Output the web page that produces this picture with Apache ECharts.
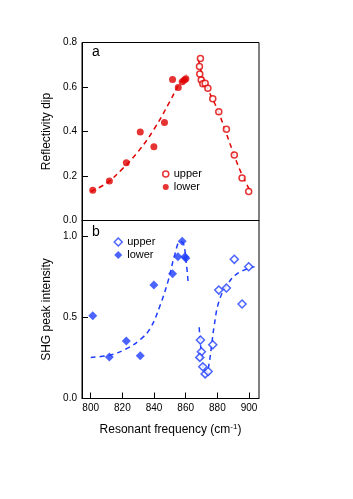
<!DOCTYPE html>
<html>
<head>
<meta charset="utf-8">
<script src="https://cdn.jsdelivr.net/npm/echarts@6/dist/echarts.min.js"></script>
<style>
  html, body { margin: 0; padding: 0; background: #fff; }
  #chart { width: 353px; height: 499px; }
</style>
</head>
<body>
<div id="chart"></div>
<script>
const RED = '#e00000';
const BLUE = '#1f3dff';

// panel a: reflectivity dip
const aLowerFreq = [801.3, 811.8, 822.5, 831.3, 839.9, 846.6, 851.7, 855.3, 857.8, 859.2, 860.1];
const aLowerDip = [0.136, 0.178, 0.26, 0.398, 0.332, 0.44, 0.634, 0.598, 0.624, 0.632, 0.637];
const aUpperFreq = [869.3, 868.7, 868.9, 869.8, 870.8, 872.3, 874.0, 877.1, 880.9, 885.7, 890.7, 895.6, 899.8];
const aUpperDip = [0.728, 0.692, 0.658, 0.631, 0.615, 0.617, 0.594, 0.547, 0.489, 0.41, 0.294, 0.191, 0.13];
const aFitLowFreq = [800, 810, 820, 830, 840, 850, 856, 860.5];
const aFitLowDip = [0.13, 0.168, 0.232, 0.31, 0.41, 0.535, 0.615, 0.655];
const aFitUpFreq = [868, 871, 875, 880, 885, 890, 895, 900.5];
const aFitUpDip = [0.725, 0.64, 0.575, 0.5, 0.405, 0.305, 0.215, 0.135];

// panel b: SHG peak intensity
const bLowerFreq = [801.3, 811.8, 822.5, 831.3, 839.9, 851.7, 855.1, 857.8, 859.5, 860.1];
const bLowerShg = [0.511, 0.257, 0.356, 0.264, 0.701, 0.771, 0.876, 0.971, 0.876, 0.866];
const bUpperFreq = [869.3, 869.9, 868.9, 870.8, 872.3, 874.2, 877.1, 880.9, 885.7, 890.7, 895.6, 899.8];
const bUpperShg = [0.361, 0.289, 0.254, 0.196, 0.152, 0.167, 0.332, 0.67, 0.683, 0.86, 0.584, 0.814];
const bFitLowFreq = [800, 812, 823, 832, 838, 844, 849, 853, 856.5, 858.5, 860.3, 861.5];
const bFitLowShg = [0.254, 0.268, 0.31, 0.37, 0.44, 0.58, 0.73, 0.885, 0.97, 0.96, 0.845, 0.72];
const bFitUpFreq = [868.5, 870, 871.5, 873, 874.5, 876, 878, 881, 886, 893, 903.5];
const bFitUpShg = [0.44, 0.27, 0.17, 0.15, 0.2, 0.3, 0.45, 0.6, 0.7, 0.775, 0.815];

const xTicks = [800, 820, 840, 860, 880, 900];
const aYTicks = [0, 0.2, 0.4, 0.6, 0.8];
const bYTicks = [0, 0.5, 1.0];

const pairs = (xs, ys) => xs.map((x, i) => [x, ys[i]]);

const FONT = '"Liberation Sans", Arial, sans-serif';
const chart = echarts.init(document.getElementById('chart'));

const axisLine = { lineStyle: { color: '#000', width: 1 } };
const tickStyle = { inside: true, length: 6, lineStyle: { color: '#000', width: 1 } };
const labelStyle = { color: '#000', fontSize: 10, fontFamily: FONT };

function fitLine(name, data, color, xi) {
  return {
    name: name, type: 'line', xAxisIndex: xi, yAxisIndex: xi,
    data: data, smooth: 0.4, symbol: 'none', silent: true,
    lineStyle: { color: color, width: 1.5, type: [5, 4] }, z: 1
  };
}

chart.setOption({
  animation: false,
  textStyle: { fontFamily: FONT },
  grid: [
    { left: 82, right: 94, top: 42.5, height: 178, show: true, borderColor: '#000', borderWidth: 1 },
    { left: 82, right: 94, top: 220.5, height: 178, show: true, borderColor: '#000', borderWidth: 1 }
  ],
  xAxis: [
    {
      gridIndex: 0, type: 'value', min: 794.5, max: 906.3,
      axisLine: axisLine, axisTick: { show: false }, axisLabel: { show: false }, splitLine: { show: false }
    },
    {
      gridIndex: 1, type: 'value', min: 794.5, max: 906.3,
      axisLine: axisLine,
      axisTick: Object.assign({ customValues: xTicks }, tickStyle),
      axisLabel: Object.assign({ customValues: xTicks, margin: 5 }, labelStyle),
      splitLine: { show: false },
      name: 'Resonant frequency (cm{sup|-1})', nameLocation: 'middle', nameGap: 24,
      nameTextStyle: {
        color: '#000', fontSize: 12, fontFamily: FONT,
        rich: { sup: { fontSize: 8, verticalAlign: 'top', color: '#000', padding: [0, 0, 6, 0] } }
      }
    }
  ],
  yAxis: [
    {
      gridIndex: 0, type: 'value', min: 0, max: 0.8,
      axisLine: axisLine,
      axisTick: Object.assign({ customValues: aYTicks }, tickStyle),
      axisLabel: Object.assign({ customValues: aYTicks, margin: 5, formatter: v => v.toFixed(1) }, labelStyle),
      splitLine: { show: false },
      name: 'Reflectivity dip', nameLocation: 'middle', nameGap: 28,
      nameTextStyle: { color: '#000', fontSize: 12, fontFamily: FONT }
    },
    {
      gridIndex: 1, type: 'value', min: 0, max: 1.1,
      axisLine: axisLine,
      axisTick: Object.assign({ customValues: bYTicks }, tickStyle),
      axisLabel: Object.assign({ customValues: bYTicks, margin: 5, formatter: v => v.toFixed(1) }, labelStyle),
      splitLine: { show: false },
      name: 'SHG peak intensity', nameLocation: 'middle', nameGap: 28,
      nameTextStyle: { color: '#000', fontSize: 12, fontFamily: FONT }
    }
  ],
  legend: [
    {
      left: 157, top: 163.5, orient: 'vertical', itemWidth: 6, itemHeight: 6, itemGap: 2,
      textStyle: { color: '#000', fontSize: 11, fontFamily: FONT }, selectedMode: false,
      data: [
        { name: 'upper', icon: 'circle', itemStyle: { color: '#fff', borderColor: RED, borderWidth: 1.5 } },
        { name: 'lower', icon: 'circle', itemStyle: { color: RED, borderWidth: 0 } }
      ]
    },
    {
      left: 108.5, top: 231.5, orient: 'vertical', itemWidth: 8, itemHeight: 8, itemGap: 2,
      textStyle: { color: '#000', fontSize: 11, fontFamily: FONT }, selectedMode: false,
      data: [
        { name: 'upper', icon: 'diamond', itemStyle: { color: '#fff', borderColor: BLUE, borderWidth: 1.5 } },
        { name: 'lower', icon: 'diamond', itemStyle: { color: BLUE, borderWidth: 0 } }
      ]
    }
  ],
  graphic: [
    { type: 'text', left: 92, top: 45, style: { text: 'a', fontSize: 14, fontFamily: FONT, fill: '#000' } },
    { type: 'text', left: 92, top: 225, style: { text: 'b', fontSize: 14, fontFamily: FONT, fill: '#000' } }
  ],
  series: [
    fitLine('fitALow', pairs(aFitLowFreq, aFitLowDip), RED, 0),
    fitLine('fitAUp', pairs(aFitUpFreq, aFitUpDip), RED, 0),
    fitLine('fitBLow', pairs(bFitLowFreq, bFitLowShg), BLUE, 1),
    fitLine('fitBUp', pairs(bFitUpFreq, bFitUpShg), BLUE, 1),
    {
      name: 'upper', type: 'scatter', xAxisIndex: 0, yAxisIndex: 0,
      data: pairs(aUpperFreq, aUpperDip), symbol: 'circle', symbolSize: 6,
      itemStyle: { color: '#fff', borderColor: RED, borderWidth: 1.5 }, z: 3
    },
    {
      name: 'lower', type: 'scatter', xAxisIndex: 0, yAxisIndex: 0,
      data: pairs(aLowerFreq, aLowerDip), symbol: 'circle', symbolSize: 7,
      itemStyle: { color: RED }, z: 3
    },
    {
      name: 'upper', type: 'scatter', xAxisIndex: 1, yAxisIndex: 1,
      data: pairs(bUpperFreq, bUpperShg), symbol: 'diamond', symbolSize: 8,
      itemStyle: { color: '#fff', borderColor: BLUE, borderWidth: 1.5 }, z: 3
    },
    {
      name: 'lower', type: 'scatter', xAxisIndex: 1, yAxisIndex: 1,
      data: pairs(bLowerFreq, bLowerShg), symbol: 'diamond', symbolSize: 9,
      itemStyle: { color: BLUE }, z: 3
    }
  ]
});
</script>
</body>
</html>
